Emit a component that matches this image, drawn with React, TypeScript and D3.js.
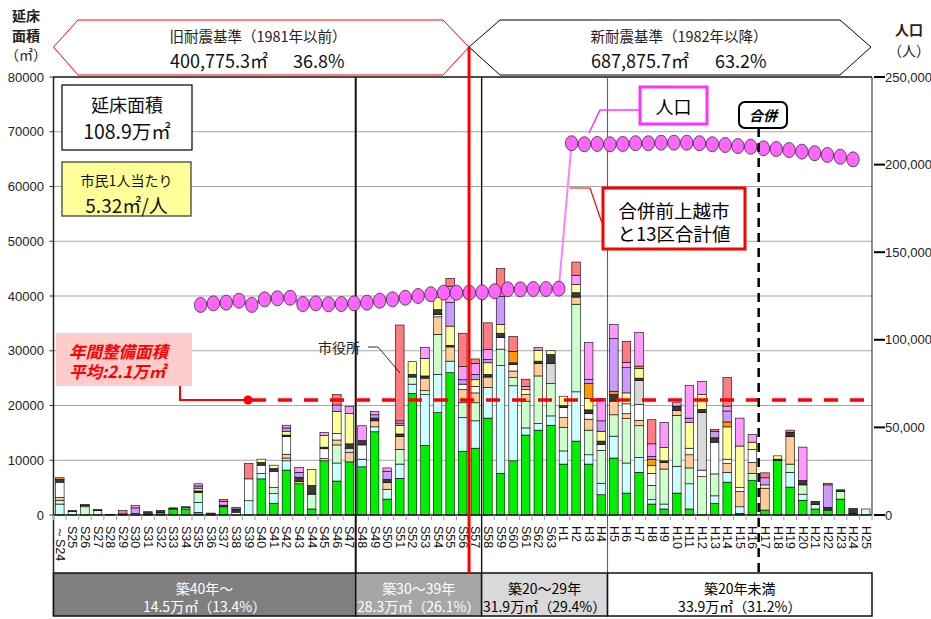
import React from "react";
import * as d3 from "d3";

// 建築年度
const categories = [
  "～S24", "S25", "S26", "S27", "S28", "S29", "S30", "S31", "S32", "S33", "S34", "S35", "S36",
  "S37", "S38", "S39", "S40", "S41", "S42", "S43", "S44", "S45", "S46", "S47", "S48", "S49",
  "S50", "S51", "S52", "S53", "S54", "S55", "S56", "S57", "S58", "S59", "S60", "S61", "S62",
  "S63", "H1", "H2", "H3", "H4", "H5", "H6", "H7", "H8", "H9", "H10", "H11", "H12", "H13",
  "H14", "H15", "H16", "H17", "H18", "H19", "H20", "H21", "H22", "H23", "H24", "H25",
];

// 延床面積（千㎡）施設分類ごと、下から積み上げ順
const green = [
  0, 0, 0, 0, 0, 0, 0, 0, 0.4, 1.1, 1.0, 0.5, 0,
  1.5, 0, 0, 6.6, 2.1, 8.2, 5.7, 1.1, 9.9, 6.2, 9.7, 8.8, 15.2,
  2.9, 6.7, 22.2, 12.7, 18.7, 26.0, 11.6, 12.2, 17.7, 7.6, 9.9, 14.6, 15.5,
  16.4, 9.3, 13.5, 9.3, 3.7, 10.4, 4.0, 7.8, 2.0, 1.1, 4.0, 1.1, 0,
  2.1, 6.0, 0.3, 6.3, 0.9, 10.0, 5.1, 2.7, 1.1, 0.9, 2.9, 0.3, 0,
];
const cyan = [
  2.0, 0.6, 0, 0, 0, 0, 0.3, 0, 0, 0, 0, 1.8, 0,
  0, 0.5, 2.6, 1.0, 1.8, 1.7, 0, 0, 0, 3.3, 0, 1.4, 0.9,
  1.8, 2.6, 1.7, 9.3, 7.0, 2.1, 6.2, 5.0, 5.6, 19.7, 13.7, 1.3, 1.2,
  1.7, 2.4, 9.0, 1.7, 2.1, 4.0, 5.5, 2.7, 0.8, 0.9, 4.9, 4.6, 0,
  1.4, 1.8, 1.2, 0, 0, 0, 2.7, 1.1, 0.8, 0, 0, 0, 1.1,
];
const lightGreen = [
  0.7, 0, 1.5, 0.8, 0, 0, 0, 0, 0, 0, 0.3, 1.8, 0,
  0, 0, 0, 0, 1.1, 0.5, 0, 2.7, 0, 3.3, 0, 0, 0,
  0, 2.7, 1.3, 0.7, 7.3, 0, 2.7, 3.3, 0, 3.0, 1.5, 4.9, 8.7,
  5.9, 4.3, 16.0, 4.5, 6.0, 3.9, 8.1, 5.8, 2.6, 6.4, 9.3, 2.9, 7.0,
  4.0, 0, 0, 1.3, 0, 0, 1.5, 1.7, 0, 0, 1.4, 0, 0,
];
const peach = [
  0.5, 0, 0.2, 0, 0, 0, 0, 0, 0, 0, 0, 0, 0,
  0, 0.2, 0, 0, 0, 0.7, 0.4, 0, 0.4, 0.9, 1.7, 0, 1.1,
  1.2, 2.3, 0, 2.3, 3.2, 2.6, 2.4, 1.8, 1.9, 0, 1.2, 1.2, 2.3,
  0, 1.8, 1.3, 2.0, 0, 2.5, 0.9, 1.0, 0, 1.2, 0.9, 2.4, 0,
  0, 1.6, 2.8, 2.0, 4.0, 0, 5.0, 0, 0, 0, 0, 0, 0,
];
const white = [
  2.8, 0, 0, 0, 0, 0, 0, 0, 0, 0, 0, 0, 0,
  0, 0, 4.0, 1.5, 3.0, 3.2, 0, 0, 1.8, 1.2, 0, 2.6, 0,
  0, 0, 0, 0, 0.4, 0, 1.0, 1.2, 0, 2.1, 1.2, 0, 0,
  0, 1.8, 0, 1.0, 1.1, 0, 1.8, 2.9, 2.2, 0, 0, 1.2, 1.2,
  5.8, 0.8, 0.7, 2.4, 0, 0, 0, 0, 0, 0, 0, 0, 0,
];
const gray = [
  0, 0, 0, 0, 0, 0, 0, 0, 0, 0, 0, 0, 0,
  0, 0, 0, 0, 0, 0, 0, 0, 0, 0, 0.8, 0, 0,
  0, 0, 0, 0, 0, 0, 0, 0, 0, 0, 0, 0, 0,
  3.7, 0, 0, 0, 0, 0, 0, 4.4, 0, 0, 0, 0, 10.5,
  0, 0, 0, 0, 0, 0, 0, 0, 0, 0, 0, 0, 0,
];
const dark = [
  0.5, 0.2, 0.2, 0.2, 0.1, 0.2, 0, 0.6, 0.4, 0.2, 0.2, 0.3, 0.35,
  0.3, 0.4, 0, 0.5, 0.5, 0.3, 0.8, 1.6, 0.3, 0, 0.8, 0.8, 0.5,
  0.6, 0.5, 0.5, 0.4, 0.9, 0.3, 0, 0, 0.5, 0.8, 0.3, 0, 0.4,
  1.6, 0.4, 0.8, 0.7, 0.6, 1.2, 0, 0.4, 0, 0.3, 0.8, 0, 0.6,
  0.8, 0, 0, 0, 0, 0.2, 0.8, 0.8, 0.6, 0.5, 0.3, 0.9, 0,
];
const yellow = [
  0, 0, 0, 0, 0, 0, 0, 0, 0, 0, 0, 0.5, 0,
  0, 0, 0, 0.6, 0.6, 0.7, 0, 2.9, 2.1, 4.0, 5.5, 0, 0,
  0, 1.6, 2.3, 3.2, 2.2, 3.5, 0, 1.2, 2.1, 1.6, 0, 0.9, 2.0,
  0.7, 1.7, 1.5, 2.1, 1.8, 0, 2.0, 1.8, 1.4, 2.4, 0, 4.7, 2.7,
  0, 5.9, 7.6, 1.3, 0.6, 0.6, 0, 0, 0, 0, 0, 0, 0,
];
const orange = [
  0.3, 0, 0, 0, 0, 0, 0, 0, 0, 0, 0, 0, 0,
  0, 0, 0, 0, 0, 0, 0, 0, 0, 0, 0, 0, 0,
  0, 0, 0, 0, 0, 0, 0, 0, 0, 0, 2.1, 0, 0,
  0, 0, 0, 2.7, 0, 0.6, 0, 0.4, 1.2, 0, 0, 0, 0,
  0, 0.9, 0, 0, 0, 0, 0, 0, 0, 0, 0, 0, 0,
];
const violet = [
  0, 0, 0, 0, 0, 0, 1.0, 0, 0, 0, 0, 0.4, 0,
  0, 0.3, 0, 0, 0, 0.6, 0.9, 0, 0, 1.2, 0, 0, 0.6,
  1.5, 0.4, 0, 0, 0, 4.3, 0.8, 1.0, 0.6, 5.1, 0, 0, 0,
  0, 0, 0, 0.8, 1.9, 9.6, 4.6, 0, 0.5, 0, 0, 0.8, 0,
  1.2, 2.0, 0, 0, 1.3, 0, 0, 0, 0, 4.1, 0, 0, 0,
];
const pink = [
  0, 0, 0, 0, 0, 0, 0.4, 0, 0, 0, 0, 0.4, 0,
  0.7, 0, 0, 0, 0, 0.5, 0.9, 0, 0.6, 0, 1.3, 2.7, 0.6,
  0.6, 0.4, 0, 2.0, 0, 3.0, 2.4, 2.0, 1.8, 0, 0, 0.6, 0.5,
  0, 0, 1.7, 6.7, 3.8, 2.6, 1.0, 6.1, 2.3, 4.6, 0.6, 6.0, 2.4,
  0, 0.9, 5.1, 1.4, 0, 0, 0, 6.1, 0, 0, 0, 0, 0,
];
const salmon = [
  0, 0, 0, 0, 0, 0.6, 0, 0, 0, 0, 0, 0, 0,
  0.3, 0, 2.8, 0, 0, 0, 0, 0, 0, 1.9, 0, 0, 0,
  0, 17.5, 0, 0, 0, 1.4, 6.1, 0.8, 4.9, 5.1, 2.7, 1.3, 0,
  0, 0, 2.4, 0, 0.3, 0, 3.8, 0, 4.4, 0, 0, 0, 0,
  0.3, 5.2, 0, 0, 0.9, 0, 0.4, 0, 0, 0.3, 0, 0, 0,
];

// 人口（人）
const popOldCats = categories.slice(11, 40); // S35〜S63
const popOld = [
  119900, 120800, 121200, 122300, 119900, 123100, 123700, 124000, 120400, 120800,
  120300, 120400, 120800, 121200, 122300, 123100, 124000, 125000, 126000, 126900,
  126900, 126900, 127100, 127700, 128800, 128800, 129000, 129000, 129200,
];
const popNewCats = categories.slice(40, 63); // H1〜H23
const popNew = [
  212200, 211600, 211800, 211600, 211800, 212200, 212200, 212500, 212500, 212500,
  212200, 211600, 211200, 210600, 210200, 209300, 208900, 208300, 207400, 206500,
  205500, 204500, 203000,
];

const avgArea = 21000;

const ageBands = [
  { start: "～S24", title: "築40年～", sub: "14.5万㎡（13.4%）", fill: "#7f7f7f", text: "#fff" },
  { start: "S48", title: "築30～39年", sub: "28.3万㎡（26.1%）", fill: "#a6a6a6", text: "#fff" },
  { start: "S58", title: "築20～29年", sub: "31.9万㎡（29.4%）", fill: "#d9d9d9", text: "#000" },
  { start: "H5", title: "築20年未満", sub: "33.9万㎡（31.2%）", fill: "#ffffff", text: "#000" },
];

const seriesDefs = [
  { key: "green", color: "#00f000", values: green },
  { key: "cyan", color: "#ccffff", values: cyan },
  { key: "lightGreen", color: "#ccffcc", values: lightGreen },
  { key: "peach", color: "#ffcc99", values: peach },
  { key: "white", color: "#ffffff", values: white },
  { key: "gray", color: "#d9d9d9", values: gray },
  { key: "dark", color: "#3a3a3a", values: dark },
  { key: "yellow", color: "#ffff99", values: yellow },
  { key: "orange", color: "#ff9900", values: orange },
  { key: "violet", color: "#cc99ff", values: violet },
  { key: "pink", color: "#ff99ff", values: pink },
  { key: "salmon", color: "#ff7c80", values: salmon },
];

const JP = "'Noto Sans CJK JP', sans-serif";
const NUM = "'Liberation Sans', Arial, sans-serif";

export default function App() {
  const W = 931;
  const H = 619;
  const left = 53.5;
  const right = 872;
  const top = 77;
  const bottom = 515;
  const bandBottom = 573;

  const x = d3
    .scaleBand<string>()
    .domain(categories)
    .range([left, right])
    .paddingInner(0.32)
    .paddingOuter(0.16);
  const step = x.step();
  const bw = x.bandwidth();
  // left edge of a category cell
  const edge = (c: string) => (x(c) as number) - (step - bw) / 2;

  const y = d3.scaleLinear().domain([0, 80000]).range([bottom, top]);
  const yPop = d3.scaleLinear().domain([0, 250000]).range([bottom, top]);
  // population is on its own category axis in the original, a bit wider
  const xPop = d3.scaleBand<string>().domain(categories).range([left, 885]);
  const px = (c: string) => (xPop(c) as number) + xPop.bandwidth() / 2;

  const rows = categories.map((cat, i) => {
    const r: any = { cat };
    seriesDefs.forEach((s) => {
      r[s.key] = s.values[i] * 1000;
    });
    return r;
  });
  const stacked = d3.stack<any>().keys(seriesDefs.map((s) => s.key))(rows);

  const line = d3
    .line<[string, number]>()
    .x((d) => px(d[0]))
    .y((d) => yPop(d[1]));
  const oldPts: [string, number][] = popOldCats.map((c, i) => [c, popOld[i]]);
  const newPts: [string, number][] = popNewCats.map((c, i) => [c, popNew[i]]);
  const lastOld = oldPts[oldPts.length - 1];
  const firstNew = newPts[0];

  const avgY = y(avgArea);
  const redX = edge("S57");
  const mergeX = edge("H17");
  const sepXs = ["S48", "S58", "H5"].map(edge);

  return (
    <svg
      width={W}
      height={H}
      style={{ position: "absolute", left: 0, top: 0, background: "#fff" }}
    >
      {/* headers */}
      <polygon
        points={`${left},47 78,20 443,20 ${redX},47 443,75 78,75`}
        fill="#fff"
        stroke="#ff0000"
        strokeWidth={1}
      />
      <polygon
        points={`${redX},47 500,20 840,20 871,47 840,75 500,75`}
        fill="#fff"
        stroke="#000"
        strokeWidth={1}
      />
      <text x={258} y={35} textAnchor="middle" dominantBaseline="central" fontFamily={JP} fontSize={14.5} fill="#222">
        旧耐震基準（1981年以前）
      </text>
      <text x={170} y={60} dominantBaseline="central" fontFamily={JP} fontSize={18} fill="#111">
        400,775.3㎡
      </text>
      <text x={293} y={60} dominantBaseline="central" fontFamily={JP} fontSize={18} fill="#111">
        36.8%
      </text>
      <text x={679} y={35} textAnchor="middle" dominantBaseline="central" fontFamily={JP} fontSize={14.5} fill="#222">
        新耐震基準（1982年以降）
      </text>
      <text x={591} y={60} dominantBaseline="central" fontFamily={JP} fontSize={18} fill="#111">
        687,875.7㎡
      </text>
      <text x={715} y={60} dominantBaseline="central" fontFamily={JP} fontSize={18} fill="#111">
        63.2%
      </text>

      {/* axis titles */}
      <g fontFamily={JP} fontSize={14} textAnchor="middle" dominantBaseline="central" fill="#222">
        <text x={26} y={15} fontWeight="bold">延床</text>
        <text x={26} y={34.5} fontWeight="bold">面積</text>
        <text x={26} y={54}>（㎡）</text>
        <text x={909} y={29} fontWeight="bold">人口</text>
        <text x={909} y={50}>（人）</text>
      </g>

      {/* grid */}
      {y.ticks(8).map((t) => (
        <g key={t}>
          {t > 0 && (
            <line x1={left} x2={right} y1={y(t)} y2={y(t)} stroke="#a6a6a6" strokeWidth={1.2} />
          )}
          <line x1={left - 4} x2={left} y1={y(t)} y2={y(t)} stroke="#333" />
          <text x={44} y={y(t)} textAnchor="end" dominantBaseline="central" fontFamily={NUM} fontSize={13} fill="#222">
            {t}
          </text>
        </g>
      ))}

      {/* bars */}
      {stacked.map((layer, li) => (
        <g key={layer.key} fill={seriesDefs[li].color} stroke="#000" strokeWidth={0.6}>
          {layer.map((d, i) => {
            const h = y(d[0]) - y(d[1]);
            if (h <= 0) return null;
            return <rect key={i} x={x(categories[i])} y={y(d[1])} width={bw} height={h} />;
          })}
        </g>
      ))}

      {/* plot frame */}
      <line x1={left} x2={right} y1={top} y2={top} stroke="#222" strokeWidth={1.3} />
      <line x1={right} x2={right} y1={top} y2={bottom} stroke="#444" strokeWidth={1.2} />
      <line x1={left} x2={left} y1={top} y2={H - 3} stroke="#222" strokeWidth={1.5} />
      <line x1={left} x2={right} y1={bottom} y2={bottom} stroke="#111" strokeWidth={1.6} />

      {/* category ticks and labels */}
      {d3.range(categories.length + 1).map((i) => {
        const tx = left + i * step;
        return <line key={i} x1={tx} x2={tx} y1={bottom} y2={bottom + 5} stroke="#a0a0a0" />;
      })}
      {categories.map((c) => {
        const cx = (x(c) as number) + bw / 2;
        return (
          <text
            key={c}
            x={cx}
            y={526}
            transform={`rotate(90, ${cx}, 526)`}
            dominantBaseline="central"
            fontFamily={NUM}
            fontSize={12.5}
            fill="#111"
          >
            {c}
          </text>
        );
      })}

      {/* age separators */}
      {sepXs.map((sx, i) => (
        <line
          key={i}
          x1={sx}
          x2={sx}
          y1={top}
          y2={bandBottom}
          stroke={i === 2 ? "#555" : "#111"}
          strokeWidth={i === 0 ? 2 : i === 1 ? 1.4 : 1}
        />
      ))}

      {/* age bands */}
      {ageBands.map((b, i) => {
        const x0 = edge(b.start);
        const x1 = i < ageBands.length - 1 ? edge(ageBands[i + 1].start) : right;
        const mid = (x0 + x1) / 2;
        return (
          <g key={b.start}>
            <rect x={x0} y={bandBottom} width={x1 - x0} height={H - 3 - bandBottom} fill={b.fill} stroke="#111" strokeWidth={1.5} />
            <text x={mid} y={588} textAnchor="middle" dominantBaseline="central" fontFamily={JP} fontSize={14} fill={b.text}>
              {b.title}
            </text>
            <text x={mid} y={606} textAnchor="middle" dominantBaseline="central" fontFamily={JP} fontSize={14} fill={b.text}>
              {b.sub}
            </text>
          </g>
        );
      })}

      {/* right axis */}
      {yPop.ticks(5).map((t) => (
        <g key={t}>
          <line x1={right + 2} x2={right + 13} y1={yPop(t)} y2={yPop(t)} stroke="#000" strokeWidth={2} />
          <text x={right + 13} y={yPop(t)} dominantBaseline="central" fontFamily={NUM} fontSize={13} fill="#222">
            {d3.format(",")(t)}
          </text>
        </g>
      ))}

      {/* average line */}
      <line x1={252} x2={right} y1={avgY} y2={avgY} stroke="#ff0000" strokeWidth={3.5} strokeDasharray="14 12" />
      <polyline points={`180,386 180,${avgY} 248,${avgY}`} fill="none" stroke="#ff0000" strokeWidth={2} />
      <circle cx={248} cy={avgY} r={4.5} fill="#ff0000" />
      <rect x={56} y={333} width={136} height={53} fill="#ffcccc" />
      <text x={69} y={351} dominantBaseline="central" fontFamily={JP} fontSize={16.5} fontWeight="bold" fontStyle="italic" fill="#ff0000">
        年間整備面積
      </text>
      <text x={69} y={371} dominantBaseline="central" fontFamily={JP} fontSize={16.5} fontWeight="bold" fontStyle="italic" fill="#ff0000">
        平均:2.1万㎡
      </text>

      {/* population */}
      <line x1={px(lastOld[0])} y1={yPop(lastOld[1])} x2={px(firstNew[0])} y2={yPop(firstNew[1])} stroke="#ff80ff" strokeWidth={2} />
      <path d={line(oldPts) || ""} fill="none" stroke="#ff66ff" strokeWidth={3.5} />
      <path d={line(newPts) || ""} fill="none" stroke="#ff66ff" strokeWidth={3.5} />
      {[...oldPts, ...newPts].map((d, i) => (
        <ellipse key={i} cx={px(d[0])} cy={yPop(d[1])} rx={6.2} ry={7.5} fill="#ff66ff" stroke="#333" strokeWidth={0.8} />
      ))}

      {/* 1981 boundary */}
      <line x1={redX} x2={redX} y1={47} y2={bandBottom} stroke="#ff0000" strokeWidth={3} />

      {/* merger */}
      <line x1={mergeX} x2={mergeX} y1={128} y2={bandBottom - 1} stroke="#000" strokeWidth={2.5} strokeDasharray="9 6" />
      <rect x={739} y={102} width={48} height={26} rx={6} fill="#fff" stroke="#000" strokeWidth={2} />
      <text x={763} y={115} textAnchor="middle" dominantBaseline="central" fontFamily={JP} fontSize={14} fontWeight="bold" fontStyle="italic" fill="#000">
        合併
      </text>

      {/* callouts */}
      <polyline points="640,110 600,110 589,133" fill="none" stroke="#ff33ff" strokeWidth={1.5} />
      <rect x={640} y={87} width={67} height={37} fill="#fff" stroke="#ff33ff" strokeWidth={3} />
      <text x={673.5} y={105.5} textAnchor="middle" dominantBaseline="central" fontFamily={JP} fontSize={18} fill="#000">
        人口
      </text>

      <polyline points="570,188 590,188 602,223" fill="none" stroke="#ff0000" strokeWidth={1.2} />
      <rect x={603} y={188} width={142} height={61} fill="#fff" stroke="#ff0000" strokeWidth={3} />
      <text x={674} y={210} textAnchor="middle" dominantBaseline="central" fontFamily={JP} fontSize={18.5} fill="#000">
        合併前上越市
      </text>
      <text x={674} y={233} textAnchor="middle" dominantBaseline="central" fontFamily={JP} fontSize={18.5} fill="#000">
        と13区合計値
      </text>

      <text x={318} y={347} dominantBaseline="central" fontFamily={JP} fontSize={14} fill="#222">
        市役所
      </text>
      <polyline points="368,347 378,347 400,373" fill="none" stroke="#000" strokeWidth={0.8} />

      {/* summary boxes */}
      <rect x={62} y={85} width={130} height={65} fill="#fff" stroke="#000" strokeWidth={1.2} />
      <text x={127} y={104} textAnchor="middle" dominantBaseline="central" fontFamily={JP} fontSize={18} fill="#111">
        延床面積
      </text>
      <text x={127} y={130} textAnchor="middle" dominantBaseline="central" fontFamily={JP} fontSize={19.5} fill="#111">
        108.9万㎡
      </text>
      <rect x={62} y={162} width={129} height={54} fill="#ffff99" stroke="#333" strokeWidth={1.2} />
      <text x={126.5} y={180} textAnchor="middle" dominantBaseline="central" fontFamily={JP} fontSize={14} fill="#111">
        市民1人当たり
      </text>
      <text x={126.5} y={204} textAnchor="middle" dominantBaseline="central" fontFamily={JP} fontSize={19} fill="#111">
        5.32㎡/人
      </text>
    </svg>
  );
}
